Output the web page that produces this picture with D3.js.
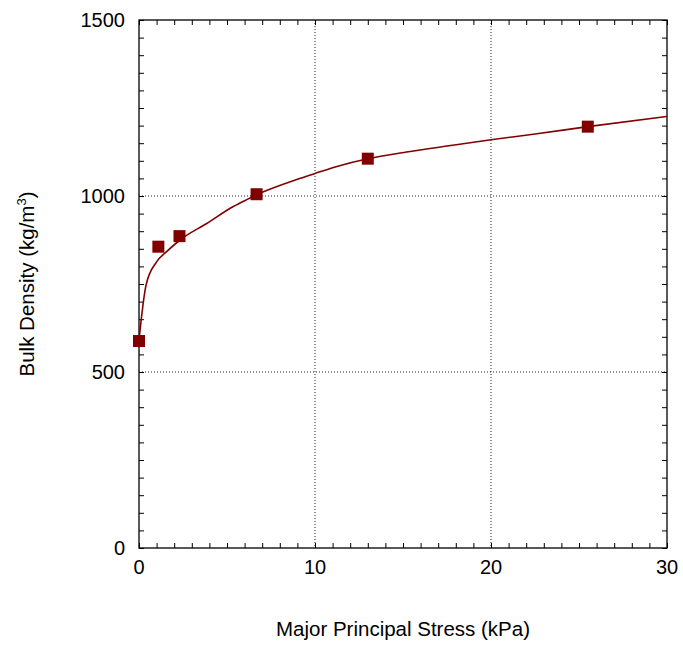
<!DOCTYPE html>
<html><head><meta charset="utf-8">
<script src="https://cdn.jsdelivr.net/npm/d3@7"></script>
<style>body{margin:0;background:#fff}svg{display:block}text{font-family:"Liberation Sans",Arial,sans-serif;fill:#000}</style>
</head><body>
<script>
// Measured data points
const stressPts = [0, 1.1, 2.3, 6.68, 13.0, 25.5];
const densityPts = [588, 856, 886, 1005, 1106, 1197];
// Fitted curve
const curveX = [0, 0.4, 1.0, 1.57, 2.33, 3.85, 5.36, 6.1, 7.07, 8.96, 10.0, 11.4, 12.94, 15.2, 17.5, 20.0, 22.5, 25.5, 30];
const curveY = [591, 747, 813, 842, 875, 922, 970, 989, 1012, 1047, 1064, 1086, 1105, 1125, 1142, 1160, 1176, 1197, 1226];
const xTicks = [0, 10, 20, 30];
const yTicks = [0, 500, 1000, 1500];

const W = 683, H = 646;
const m = {l: 139, t: 20, r: 667, b: 548};
const svg = d3.select("body").append("svg").attr("width", W).attr("height", H);
const x = d3.scaleLinear().domain([0, 30]).range([m.l, m.r]);
const y = d3.scaleLinear().domain([0, 1500]).range([m.b, m.t]);

// gridlines
const g = svg.append("g");
g.selectAll("line.gx").data([10, 20]).join("line")
  .attr("x1", d => x(d)).attr("x2", d => x(d)).attr("y1", m.t).attr("y2", m.b)
  .attr("stroke", "#222").attr("stroke-width", 1).attr("stroke-dasharray", "1,2");
g.selectAll("line.gy").data([500, 1000]).join("line")
  .attr("y1", d => y(d)).attr("y2", d => y(d)).attr("x1", m.l).attr("x2", m.r)
  .attr("stroke", "#222").attr("stroke-width", 1).attr("stroke-dasharray", "1,2");

// minor/major ticks inward on all sides
const xMinor = d3.range(0, 31, 1), yMinor = d3.range(0, 1501, 50);
const tickLen = 5;
svg.append("g").attr("transform", `translate(0,${m.b})`)
  .call(d3.axisTop(x).tickValues(xMinor).tickSize(tickLen).tickFormat(""))
  .call(a => a.select(".domain").remove());
svg.append("g").attr("transform", `translate(0,${m.t})`)
  .call(d3.axisBottom(x).tickValues(xMinor).tickSize(tickLen).tickFormat(""))
  .call(a => a.select(".domain").remove());
svg.append("g").attr("transform", `translate(${m.l},0)`)
  .call(d3.axisRight(y).tickValues(yMinor).tickSize(tickLen).tickFormat(""))
  .call(a => a.select(".domain").remove());
svg.append("g").attr("transform", `translate(${m.r},0)`)
  .call(d3.axisLeft(y).tickValues(yMinor).tickSize(tickLen).tickFormat(""))
  .call(a => a.select(".domain").remove());

// frame
svg.append("rect").attr("x", m.l).attr("y", m.t).attr("width", m.r - m.l).attr("height", m.b - m.t)
  .attr("fill", "none").attr("stroke", "#000").attr("stroke-width", 1.3);

// tick labels
svg.selectAll("text.xl").data(xTicks).join("text")
  .attr("x", d => x(d)).attr("y", 574).attr("text-anchor", "middle")
  .attr("font-size", 20).text(d => d);
svg.selectAll("text.yl").data(yTicks).join("text")
  .attr("x", 125).attr("y", d => y(d) + 7).attr("text-anchor", "end")
  .attr("font-size", 20).text(d => d);

// axis titles
svg.append("text").attr("x", 403).attr("y", 636).attr("text-anchor", "middle")
  .attr("font-size", 20.5).text("Major Principal Stress (kPa)");
const yt = svg.append("text").attr("transform", `translate(34,284) rotate(-90)`)
  .attr("text-anchor", "middle").attr("font-size", 20.5);
yt.append("tspan").text("Bulk Density (kg/m");
yt.append("tspan").attr("dy", -8).attr("font-size", 13).text("3");
yt.append("tspan").attr("dy", 8).text(")");

// curve
const curve = curveX.map((d, i) => [d, curveY[i]]);
svg.append("path").datum(curve)
  .attr("d", d3.line().curve(d3.curveMonotoneX).x(d => x(d[0])).y(d => y(d[1])))
  .attr("fill", "none").attr("stroke", "#800000").attr("stroke-width", 1.6);

// markers
const s = 12;
svg.selectAll("rect.pt").data(stressPts.map((d, i) => [d, densityPts[i]])).join("rect")
  .attr("x", d => x(d[0]) - s / 2).attr("y", d => y(d[1]) - s / 2)
  .attr("width", s).attr("height", s).attr("fill", "#800000");
</script>
</body></html>
